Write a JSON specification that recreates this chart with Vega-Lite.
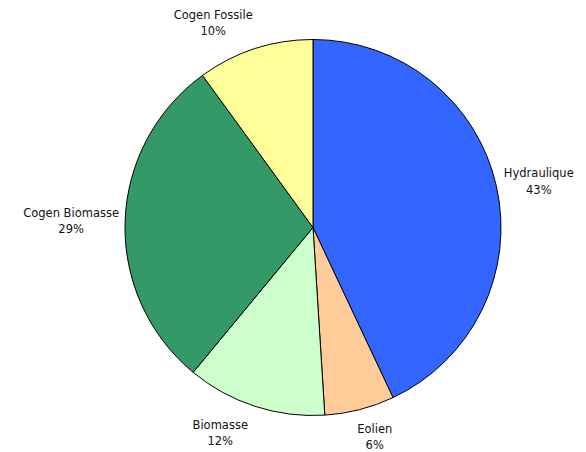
{
  "$schema": "https://vega.github.io/schema/vega-lite/v6.json",
  "width": 546,
  "height": 451,
  "autosize": {"type": "none"},
  "padding": {"left": 40, "right": 0, "top": 2, "bottom": 0},
  "background": "white",
  "view": {"stroke": null},
  "data": {
    "values": [
      {"source": "Hydraulique", "share": 43, "rank": 1, "side": "right"},
      {"source": "Eolien", "share": 6, "rank": 2, "side": "bottom"},
      {"source": "Biomasse", "share": 12, "rank": 3, "side": "left"},
      {"source": "Cogen Biomasse", "share": 29, "rank": 4, "side": "left"},
      {"source": "Cogen Fossile", "share": 10, "rank": 5, "side": "top"}
    ]
  },
  "transform": [
    {"stack": "share", "groupby": [], "sort": [{"field": "rank", "order": "ascending"}], "as": ["s0", "s1"]},
    {"calculate": "(datum.s0 + datum.s1) / 2", "as": "mid"},
    {"calculate": "[datum.source, datum.share + '%']", "as": "label"}
  ],
  "layer": [
    {
      "mark": {"type": "arc", "radius": 188, "stroke": "#000000", "strokeWidth": 1},
      "encoding": {
        "theta": {"field": "s0", "type": "quantitative", "scale": {"domain": [0, 100]}},
        "theta2": {"field": "s1"},
        "color": {
          "field": "source",
          "type": "nominal",
          "scale": {
            "domain": ["Hydraulique", "Eolien", "Biomasse", "Cogen Biomasse", "Cogen Fossile"],
            "range": ["#3366FF", "#FFCC99", "#CCFFCC", "#339966", "#FFFF99"]
          },
          "legend": null
        }
      }
    },
    {
      "transform": [{"filter": "datum.side === 'right'"}],
      "mark": {"type": "text", "radius": 216, "dx": 15, "dy": -6, "align": "center", "baseline": "middle", "font": "DejaVu Sans", "fontSize": 11.5, "lineHeight": 17, "color": "#111111"},
      "encoding": {
        "theta": {"field": "mid", "type": "quantitative", "scale": {"domain": [0, 100]}},
        "text": {"field": "label"}
      }
    },
    {
      "transform": [{"filter": "datum.side === 'bottom'"}],
      "mark": {"type": "text", "radius": 216, "dx": 8, "dy": -7, "align": "center", "baseline": "middle", "font": "DejaVu Sans", "fontSize": 11.5, "lineHeight": 16, "color": "#111111"},
      "encoding": {
        "theta": {"field": "mid", "type": "quantitative", "scale": {"domain": [0, 100]}},
        "text": {"field": "label"}
      }
    },
    {
      "transform": [{"filter": "datum.side === 'left'"}],
      "mark": {"type": "text", "radius": 216, "dx": -26, "dy": -7, "align": "center", "baseline": "middle", "font": "DejaVu Sans", "fontSize": 11.5, "lineHeight": 16, "color": "#111111"},
      "encoding": {
        "theta": {"field": "mid", "type": "quantitative", "scale": {"domain": [0, 100]}},
        "text": {"field": "label"}
      }
    },
    {
      "transform": [{"filter": "datum.side === 'top'"}],
      "mark": {"type": "text", "radius": 216, "dx": -33, "dy": -6, "align": "center", "baseline": "middle", "font": "DejaVu Sans", "fontSize": 11.5, "lineHeight": 16, "color": "#111111"},
      "encoding": {
        "theta": {"field": "mid", "type": "quantitative", "scale": {"domain": [0, 100]}},
        "text": {"field": "label"}
      }
    }
  ]
}
